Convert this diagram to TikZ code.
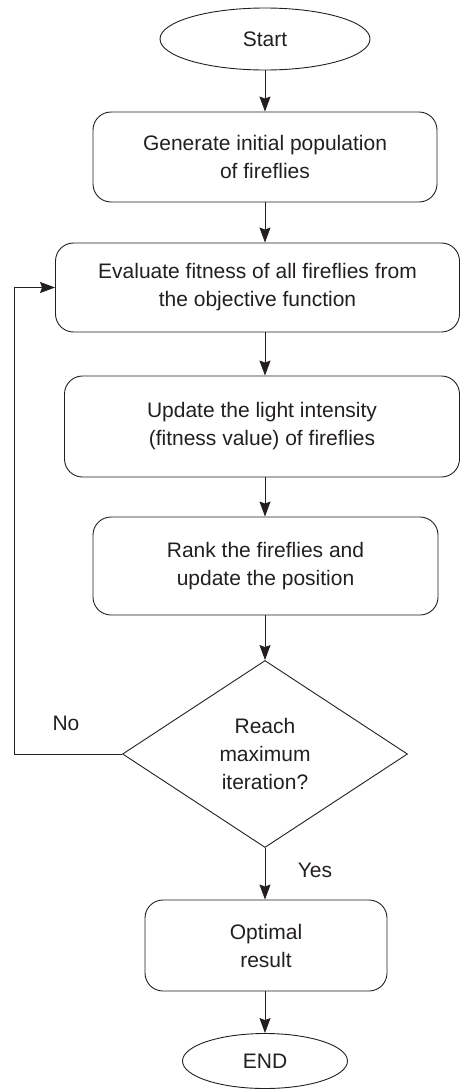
\documentclass[tikz,border=0pt]{standalone}
\usepackage{fontspec}
\setmainfont{Liberation Sans}
\usetikzlibrary{shapes.geometric,arrows.meta}
\definecolor{ink}{HTML}{231F20}
\begin{document}
\begin{tikzpicture}[x=1pt,y=-1pt,
  every node/.style={text=ink,font=\fontsize{21}{28}\selectfont,align=center,inner sep=0pt},
  term/.style={draw=ink,line width=0.9pt,ellipse},
  procbox/.style={draw=ink,line width=0.9pt,rectangle,rounded corners=18pt},
  decide/.style={draw=ink,line width=0.9pt,diamond},
  conn/.style={draw=ink,line width=0.9pt,-{Stealth[length=15pt,width=11pt,inset=2pt]}}]
\useasboundingbox (0,0) rectangle (461,1090);
\node[term,minimum width=210pt,minimum height=62pt] (start) at (265,39) {Start};
\node[procbox,minimum width=344pt,minimum height=90pt] (gen) at (265,157) {Generate initial population\\of fireflies};
\node[procbox,minimum width=404pt,minimum height=89pt] (eval) at (257.5,287.5) {Evaluate fitness of all fireflies from\\the objective function};
\node[procbox,minimum width=395pt,minimum height=101pt] (upd) at (262,426.5) {Update the light intensity\\(fitness value) of fireflies};
\node[procbox,minimum width=345pt,minimum height=98pt] (rank) at (265.5,566) {Rank the fireflies and\\update the position};
\node[decide,minimum width=285pt,minimum height=187pt] (dia) at (265,754) {Reach\\maximum\\iteration?};
\node[procbox,minimum width=242pt,minimum height=91pt] (opt) at (266,945.5) {Optimal\\result};
\node[term,minimum width=165pt,minimum height=55pt] (end) at (265,1061) {END};
\node (no) at (66,723) {No};
\node (yes) at (315,870) {Yes};
\coordinate (loopc) at (14,754);
\draw[conn] (start.south) -- (start.south |- gen.north);
\draw[conn] (start.south |- gen.south) -- (start.south |- eval.north);
\draw[conn] (start.south |- eval.south) -- (start.south |- upd.north);
\draw[conn] (start.south |- upd.south) -- (start.south |- rank.north);
\draw[conn] (dia.north |- rank.south) -- (dia.north);
\draw[conn] (dia.south) -- (dia.south |- opt.north);
\draw[conn] (dia.south |- opt.south) -- (end.north);
\draw[conn] (dia.west) -- (loopc) |- (eval.west);
\end{tikzpicture}
\end{document}
